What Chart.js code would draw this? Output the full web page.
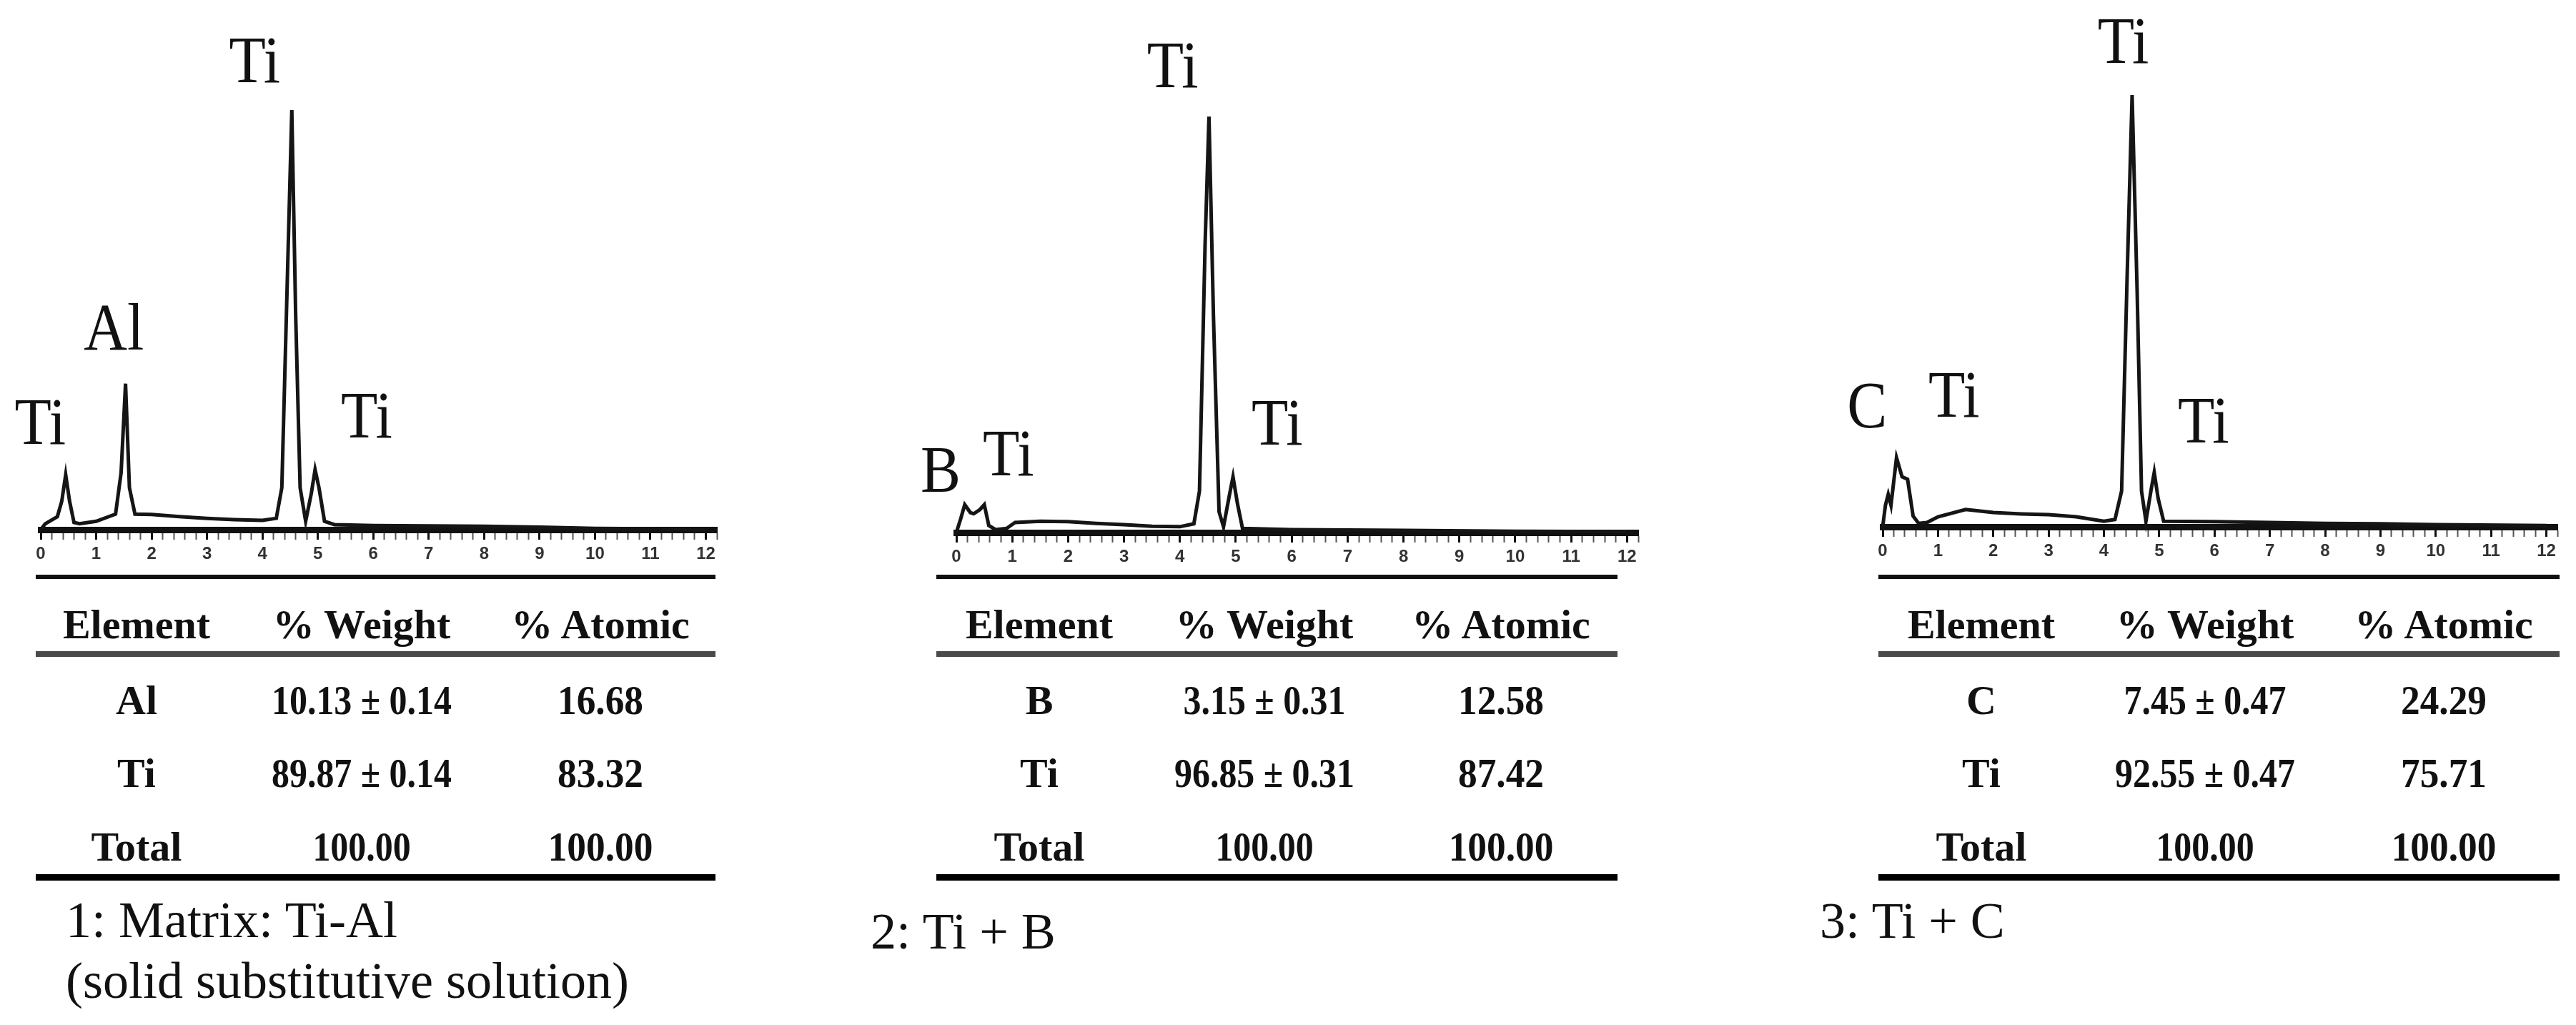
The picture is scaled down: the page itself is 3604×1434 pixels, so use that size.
<!DOCTYPE html>
<html>
<head>
<meta charset="utf-8">
<script src="https://cdn.jsdelivr.net/npm/chart.js@4.4.1/dist/chart.umd.min.js"></script>
<style>
body{margin:0;background:#fff;}
#page{position:relative;width:3604px;height:1434px;overflow:hidden;background:#fff;font-family:"Liberation Serif","Times New Roman",serif;color:#111;}
#page canvas{position:absolute;}
.rule{position:absolute;}
.txt{position:absolute;white-space:nowrap;line-height:1;}
</style>
</head>
<body>
<div id="page"></div>
<script>

// Spectrum 1: Ti-Al matrix (energy in keV, counts scaled so main Ti peak = 100)

const energy1 = [0,0.08,0.3,0.38,0.45,0.52,0.6,0.7,1.0,1.35,1.45,1.53,1.6,1.7,2.0,2.5,3.0,3.5,4.0,4.25,4.35,4.45,4.53,4.6,4.68,4.78,4.88,4.95,5.02,5.12,5.3,6,7,8,9,10,11,12];
const counts1 = [0,1.4,3.1,6.8,13.1,6.8,1.7,1.4,2.0,3.7,13.6,34.8,10,3.7,3.6,3.1,2.7,2.4,2.2,2.7,10,60,100,51,10,2,8.5,14.3,10,2,1.2,1.0,0.9,0.8,0.6,0.3,0.2,0];

// Spectrum 2: Ti + B

const energy2 = [0,0.08,0.15,0.25,0.31,0.42,0.5,0.58,0.7,0.9,1.05,1.5,2.0,2.5,3.0,3.5,4.0,4.25,4.35,4.45,4.52,4.6,4.7,4.78,4.88,4.95,5.03,5.12,6,8,10,12];
const counts2 = [0,3.4,6.7,4.8,4.5,5.5,6.7,1.7,0.7,1.0,2.4,2.7,2.6,2.2,1.9,1.5,1.4,2.1,10,69,100,52,5,1.4,8.6,13.4,6.9,1.0,0.7,0.5,0.3,0.2];

// Spectrum 3: Ti + C

const energy3 = [0,0.05,0.1,0.15,0.25,0.35,0.45,0.55,0.65,0.8,1.0,1.5,2.0,2.5,3.0,3.5,4.0,4.2,4.32,4.42,4.51,4.6,4.68,4.76,4.85,4.91,4.98,5.08,6,7,8,9,10,12];
const counts3 = [0,5,7.5,5,16,11.6,11,2.5,0.8,1,2.3,4,3.3,3,2.8,2.3,1.3,1.7,8.3,58,100,55,8.3,1.3,8.3,12.6,6.6,1.3,1.2,1,0.8,0.7,0.5,0.3];

const majorTicks = [0,1,2,3,4,5,6,7,8,9,10,11,12];

const peakNames1 = ["Ti","Al","Ti","Ti"];
const peakNames2 = ["B","Ti","Ti","Ti"];
const peakNames3 = ["C","Ti","Ti","Ti"];

// Tables

const tableHeader = ["Element","% Weight","% Atomic"];

const elements1 = ["Al","Ti","Total"];
const weight1 = ["10.13 ± 0.14","89.87 ± 0.14","100.00"];
const atomic1 = ["16.68","83.32","100.00"];

const elements2 = ["B","Ti","Total"];
const weight2 = ["3.15 ± 0.31","96.85 ± 0.31","100.00"];
const atomic2 = ["12.58","87.42","100.00"];

const elements3 = ["C","Ti","Total"];
const weight3 = ["7.45 ± 0.47","92.55 ± 0.47","100.00"];
const atomic3 = ["24.29","75.71","100.00"];

const captions1 = ["1: Matrix: Ti-Al","(solid substitutive solution)"];
const captions2 = ["2: Ti + B"];
const captions3 = ["3: Ti + C"];

// Layout (pixels) and label anchors (keV, counts)

const panels = [
{x0:57, ppk:77.5, y0:741, peakPx:587,
spots:[[-0.01,25.7],[1.32,48.2],[3.86,112],[5.88,27.3]],
table:{left:50,right:1001,cols:[191,506,840]},
caption:{x:92,y:[1287,1372]}},
{x0:1338, ppk:78.2, y0:745, peakPx:582,
spots:[[-0.28,15.1],[0.93,19.1],[3.87,112.4],[5.74,26.5]],
table:{left:1310,right:2263,cols:[1454,1769,2100]},
caption:{x:1218,y:[1303]}},
{x0:2634, ppk:77.4, y0:737, peakPx:604,
spots:[[-0.28,28.1],[1.29,30.6],[4.35,112.6],[5.8,24.7]],
table:{left:2628,right:3581,cols:[2772,3085,3419]},
caption:{x:2546,y:[1288]}}
];

const page =
document.getElementById("page");

const peakLabelPlugin = {

id:"peakLabels",

afterDatasetsDraw(chart,args,opts){

const ctx = chart.ctx;
const xs = chart.scales.x;
const ys = chart.scales.y;
const size = 84;

ctx.save();
ctx.fillStyle = "#111";
ctx.font = size+'px "Liberation Serif"';
ctx.textAlign = "center";
ctx.textBaseline = "alphabetic";

opts.names.forEach((name,i)=>{

ctx.save();
ctx.translate(xs.getPixelForValue(opts.spots[i][0]),ys.getPixelForValue(opts.spots[i][1]));
ctx.scale(1,1.12);
ctx.fillText(name,0,size*0.662/2);
ctx.restore();

});

ctx.restore();

}

};

function isMajor(v){

return majorTicks.includes(Math.round(v*10)/10);

}

function drawSpectrum(p,energy,counts,names){

const padL = 70;
const padR = 24;
const padT = 140;
const axisH = 52;
const plotW = Math.round(12.2*p.ppk);

const canvas =
document.createElement("canvas");

canvas.width = padL+plotW+padR;
canvas.height = padT+p.peakPx+axisH;
canvas.style.left = (p.x0-padL)+"px";
canvas.style.top = (p.y0-p.peakPx-padT)+"px";
page.appendChild(canvas);

new Chart(canvas,{

type:"line",

data:{

datasets:[{

data:energy.map((e,i)=>({x:e,y:counts[i]})),
borderColor:"#151515",
borderWidth:5,
pointRadius:0,
tension:0,
fill:false,
clip:false

}]

},

options:{

responsive:false,
animation:false,
layout:{padding:{left:padL,right:padR,top:padT,bottom:0}},

plugins:{
legend:{display:false},
tooltip:{enabled:false},
peakLabels:{names:names,spots:p.spots}
},

scales:{

x:{
type:"linear",
min:0,
max:12.2,
afterFit:(scale)=>{scale.height = axisH;},
border:{display:true,color:"#111",width:9},
grid:{
display:true,
drawOnChartArea:false,
drawTicks:true,
tickLength:14,
tickWidth:(c)=>c.tick && isMajor(c.tick.value) ? 3 : 2,
tickColor:(c)=>c.tick && isMajor(c.tick.value) ? "#111" : "#555"
},
ticks:{
stepSize:0.2,
maxTicksLimit:100,
autoSkip:false,
maxRotation:0,
padding:6,
color:"#333",
font:{family:"Liberation Sans",size:24,weight:"bold"},
callback:(v)=>isMajor(v) ? String(Math.round(v)) : ""
}
},

y:{
display:false,
min:0,
max:100
}

}

},

plugins:[peakLabelPlugin]

});

}

function addRule(x1,x2,y,h,color){

const d = document.createElement("div");
d.className = "rule";
d.style.left = x1+"px";
d.style.width = (x2-x1)+"px";
d.style.top = (y-h/2)+"px";
d.style.height = h+"px";
d.style.background = color;
page.appendChild(d);

}

function addCentered(text,x,y,size,bold,sx){

const s = document.createElement("div");
s.className = "txt";
s.textContent = text;
s.style.left = x+"px";
s.style.top = y+"px";
s.style.fontSize = size+"px";
s.style.fontWeight = bold ? "bold" : "normal";
s.style.transform = "translate(-50%,-50%) scaleX("+sx+")";
page.appendChild(s);

}

function addCaption(text,x,y,size){

const s = document.createElement("div");
s.className = "txt";
s.textContent = text;
s.style.left = x+"px";
s.style.top = (y-size/2)+"px";
s.style.fontSize = size+"px";
page.appendChild(s);

}

function drawTable(p,elements,weight,atomic,captions){

const t = p.table;
const rowY = [980,1082,1185];

addRule(t.left,t.right,807,6,"#111");
addRule(t.left,t.right,915,8,"#4a4a4a");
addRule(t.left,t.right,1227,9,"#000");

tableHeader.forEach((h,i)=>{
addCentered(h,t.cols[i],874,58,true,1);
});

rowY.forEach((y,r)=>{
addCentered(elements[r],t.cols[0],y,58,true,1);
addCentered(weight[r],t.cols[1],y,58,true,0.86);
addCentered(atomic[r],t.cols[2],y,58,true,0.92);
});

captions.forEach((c,i)=>{
addCaption(c,p.caption.x,p.caption.y[i],72);
});

}

drawSpectrum(panels[0],energy1,counts1,peakNames1);
drawSpectrum(panels[1],energy2,counts2,peakNames2);
drawSpectrum(panels[2],energy3,counts3,peakNames3);

drawTable(panels[0],elements1,weight1,atomic1,captions1);
drawTable(panels[1],elements2,weight2,atomic2,captions2);
drawTable(panels[2],elements3,weight3,atomic3,captions3);

</script>
</body>
</html>
